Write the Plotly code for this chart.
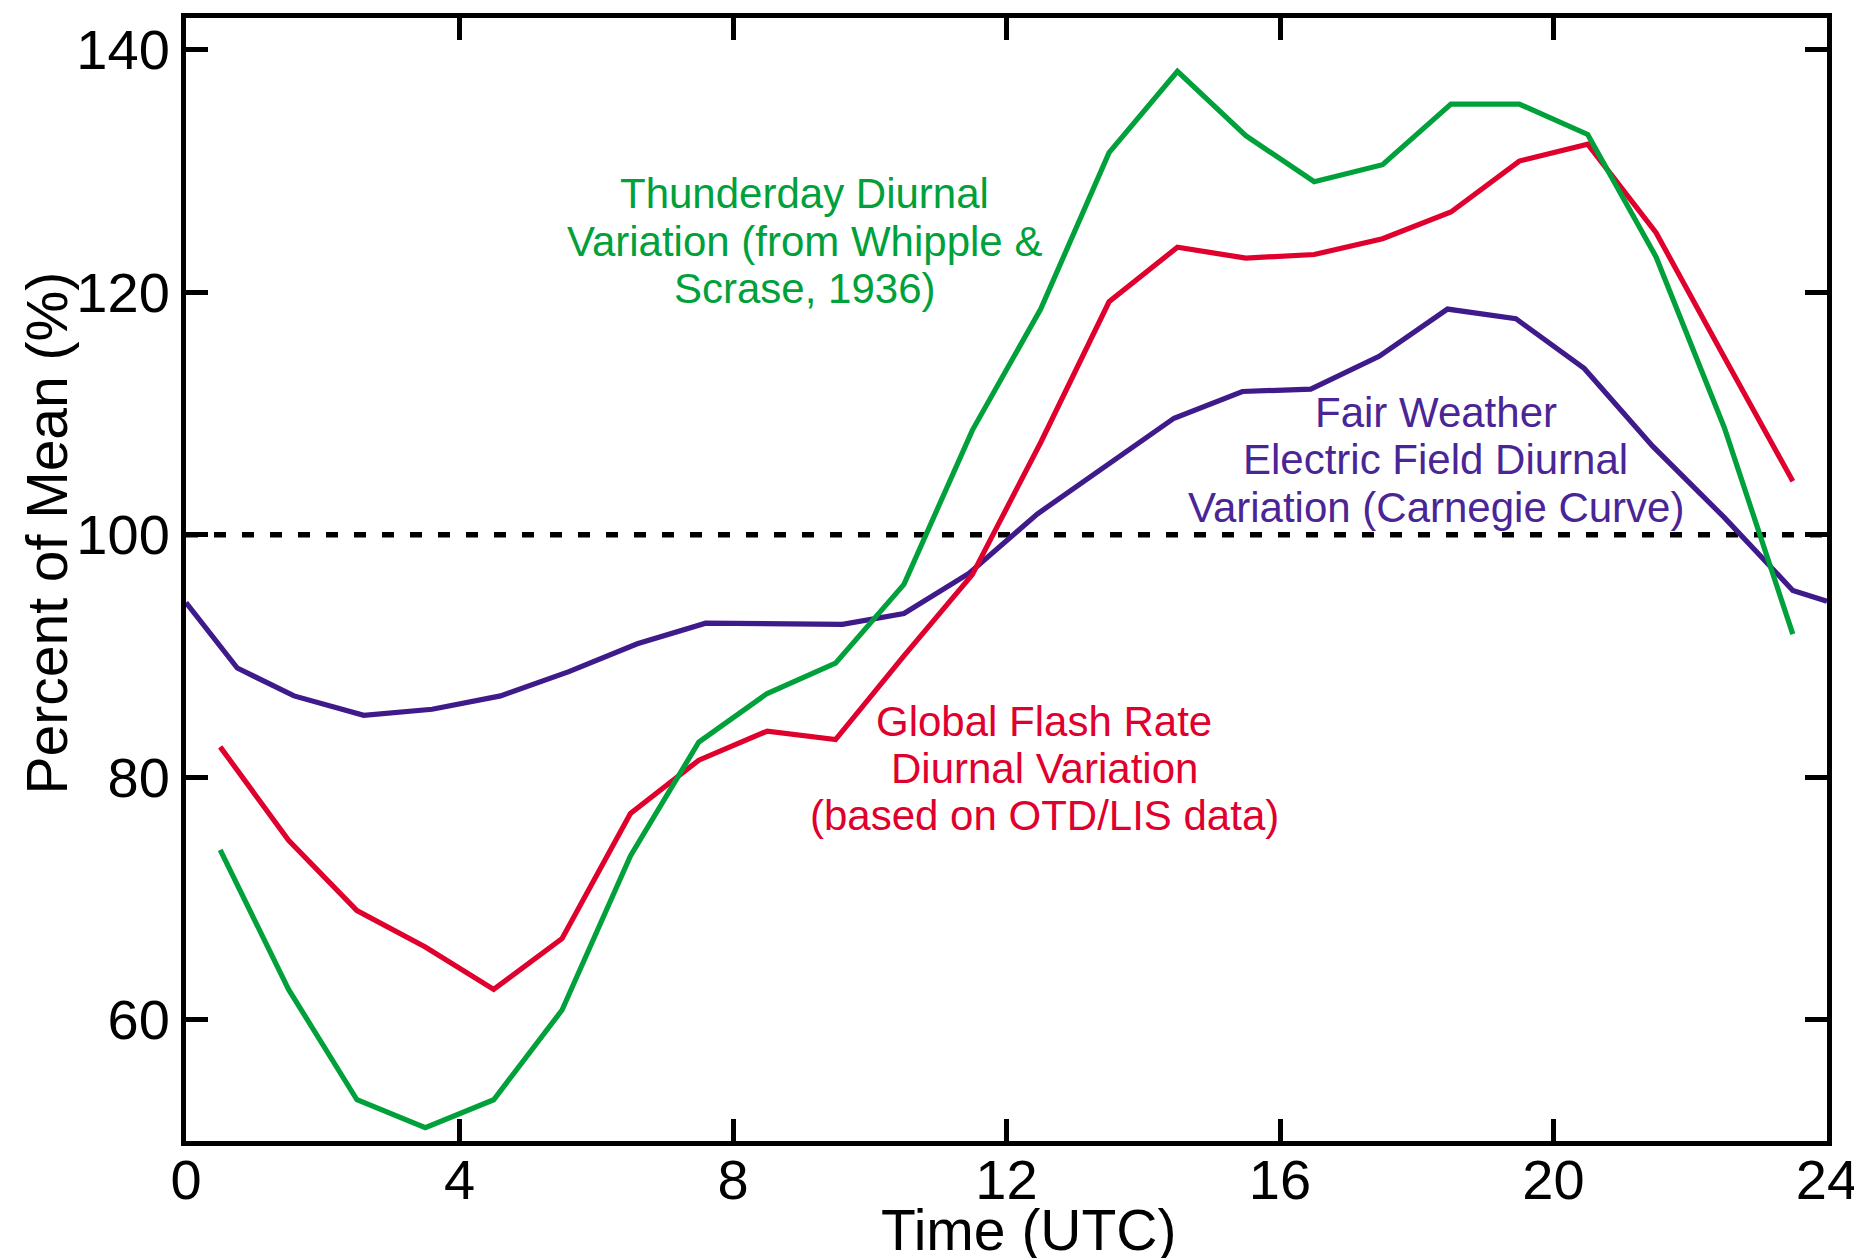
import plotly.graph_objects as go

# ---- data ----
hours_half = [0.5, 1.5, 2.5, 3.5, 4.5, 5.5, 6.5, 7.5, 8.5, 9.5, 10.5, 11.5,
              12.5, 13.5, 14.5, 15.5, 16.5, 17.5, 18.5, 19.5, 20.5, 21.5, 22.5, 23.5]

thunderday = [74.0, 62.5, 53.4, 51.1, 53.4, 60.8, 73.5, 82.9, 86.9, 89.4, 95.9, 108.6,
              118.6, 131.5, 138.2, 132.9, 129.1, 130.5, 135.5, 135.5, 133.0, 122.9, 108.8, 91.8]

flash_rate = [82.5, 74.8, 69.0, 66.0, 62.5, 66.7, 77.0, 81.4, 83.8, 83.1, 90.0, 96.7,
              107.6, 119.2, 123.7, 122.8, 123.1, 124.4, 126.6, 130.8, 132.2, 124.9, 114.6, 104.4]

carnegie_x = [0, 0.75, 1.58, 2.6, 3.6, 4.6, 5.6, 6.6, 7.6, 8.6, 9.6, 10.5, 11.45,
              12.45, 13.45, 14.45, 15.45, 16.45, 17.45, 18.45, 19.45, 20.45, 21.45,
              22.5, 23.5, 24]
carnegie = [94.4, 89.0, 86.7, 85.1, 85.6, 86.7, 88.7, 91.0, 92.7, 92.7, 92.6, 93.5, 96.8,
            101.7, 105.6, 109.6, 111.8, 112.0, 114.7, 118.6, 117.8, 113.7, 107.3,
            101.4, 95.4, 94.5]

mean_x = [0, 24]
mean_y = [100, 100]

x_ticks = [0, 4, 8, 12, 16, 20, 24]
y_ticks = [60, 80, 100, 120, 140]

x_title = "Time (UTC)"
y_title = "Percent of Mean (%)"

GREEN = "#00A03A"
RED = "#E0002D"
PURPLE = "#3F1A8A"
PURPLE_TXT = "#4A2595"
FONT = "Liberation Sans, Arial, sans-serif"

fig = go.Figure()
fig.add_trace(go.Scatter(x=mean_x, y=mean_y, mode="lines",
                         line=dict(color="black", width=5.5, dash="12px,16px"),
                         hoverinfo="skip"))
fig.add_trace(go.Scatter(x=carnegie_x, y=carnegie, mode="lines",
                         line=dict(color=PURPLE, width=5.2)))
fig.add_trace(go.Scatter(x=hours_half, y=flash_rate, mode="lines",
                         line=dict(color=RED, width=5.2)))
fig.add_trace(go.Scatter(x=hours_half, y=thunderday, mode="lines",
                         line=dict(color=GREEN, width=5.2)))

ann_font = 42
lines = [
    ("Thunderday Diurnal", 9.04, 128.1, GREEN),
    ("Variation (from Whipple &", 9.04, 124.2, GREEN),
    ("Scrase, 1936)", 9.04, 120.3, GREEN),
    ("Global Flash Rate", 12.55, 84.6, RED),
    ("Diurnal Variation", 12.55, 80.7, RED),
    ("(based on OTD/LIS data)", 12.55, 76.8, RED),
    ("Fair Weather", 18.28, 110.1, PURPLE_TXT),
    ("Electric Field Diurnal", 18.28, 106.2, PURPLE_TXT),
    ("Variation (Carnegie Curve)", 18.28, 102.2, PURPLE_TXT),
]
for txt, x, y, c in lines:
    fig.add_annotation(x=x, y=y, text=txt, showarrow=False, xanchor="center",
                       yanchor="middle", font=dict(family=FONT, size=ann_font, color=c))

# axis titles
fig.add_annotation(xref="paper", yref="paper", x=0.514, y=0, yshift=-89,
                   text=x_title, showarrow=False, xanchor="center", yanchor="middle",
                   font=dict(family=FONT, size=57, color="black"))
fig.add_annotation(xref="paper", yref="paper", x=0, xshift=-139, y=0.541,
                   text=y_title, showarrow=False, textangle=-90,
                   xanchor="center", yanchor="middle",
                   font=dict(family=FONT, size=57, color="black"))

axis_common = dict(showline=True, linecolor="black", linewidth=5, mirror="ticks",
                   ticks="inside", ticklen=22, tickwidth=5, tickcolor="black",
                   showgrid=False, zeroline=False, automargin=False,
                   ticklabeloverflow="allow",
                   tickfont=dict(family=FONT, size=56, color="black"))

fig.update_xaxes(range=[0, 24], tickvals=x_ticks, ticktext=[str(v) for v in x_ticks],
                 ticklabelstandoff=-14, **axis_common)
fig.update_yaxes(range=[50, 142.6], tickvals=y_ticks, ticktext=[str(v) for v in y_ticks],
                 **axis_common)

fig.update_layout(width=1854, height=1258, showlegend=False,
                  plot_bgcolor="white", paper_bgcolor="white",
                  margin=dict(l=186, r=27, t=18, b=117))

fig.write_html("out.html")
